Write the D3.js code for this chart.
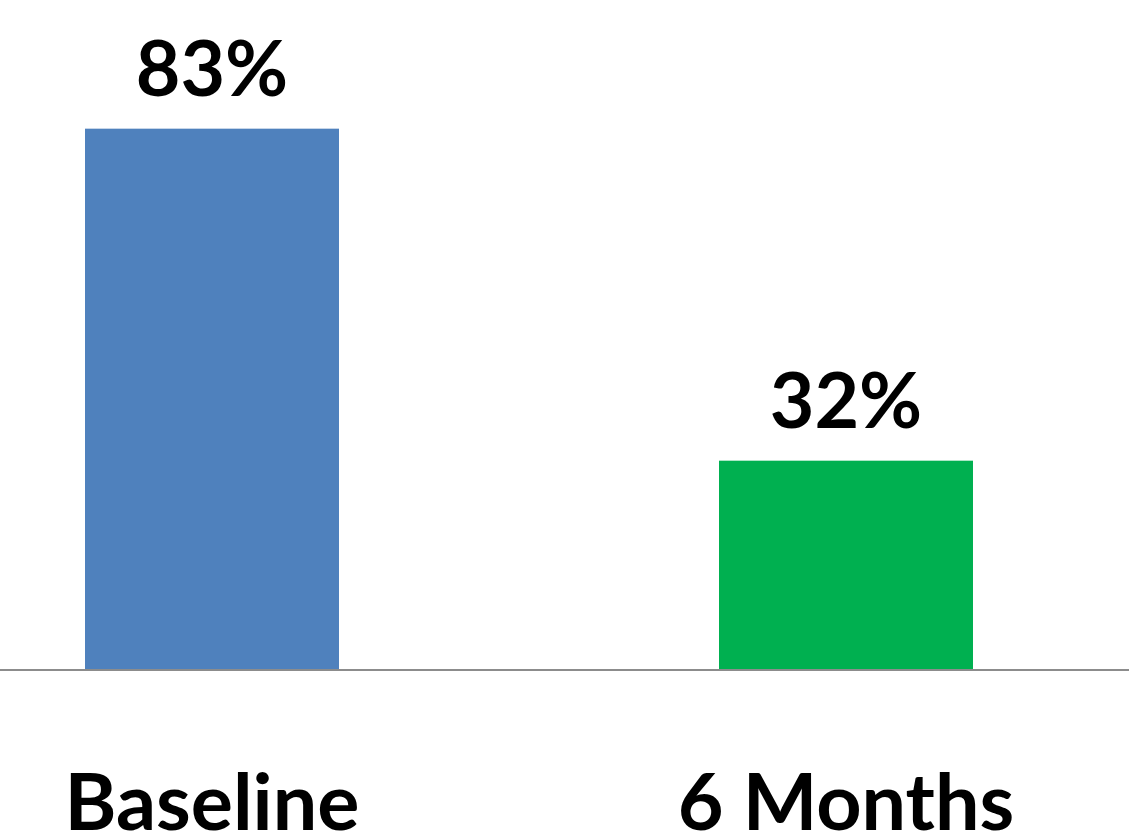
<!DOCTYPE html>
<html lang="en">
<head>
    <meta charset="UTF-8">
    <script src="https://cdn.jsdelivr.net/npm/d3@7/dist/d3.min.js"></script>
    <style>
    body { margin:0; background:#fff; overflow:hidden; }
    text { font-family: Lato, "Open Sans", sans-serif; font-weight: 700; fill: #000; }
    </style>
    <title>Baseline vs 6 Months</title>
</head>
<body>
<script>
// chart values
var categories = ["Baseline", "6 Months"];
var values = [83, 32];
var colors = ["#4f81bd", "#00b050"];

var width = 1129, height = 832;

var svg = d3.select("body").append("svg")
    .attr("width", width)
    .attr("height", height);

// bar centres sit at 212 and 846
var x = d3.scalePoint()
    .domain(categories)
    .range([212, 846]);
var barWidth = 254;

var y = d3.scaleLinear()
    .domain([0, 100])
    .range([669, 18]);

svg.selectAll("rect.bar").data(values).enter()
  .append("rect")
    .attr("class", "bar")
    .attr("x", function(d, i) { return x(categories[i]) - barWidth / 2; })
    .attr("y", function(d) { return y(d); })
    .attr("width", barWidth)
    .attr("height", function(d) { return y(0) - y(d); })
    .style("fill", function(d, i) { return colors[i]; });

// baseline axis line
svg.append("line")
    .attr("x1", 0)
    .attr("x2", width)
    .attr("y1", y(0) + 1)
    .attr("y2", y(0) + 1)
    .attr("stroke", "#8c8c8c")
    .attr("stroke-width", 2);

// value labels
svg.selectAll("text.value").data(values).enter()
  .append("text")
    .attr("class", "value")
    .attr("x", function(d, i) { return x(categories[i]); })
    .attr("y", function(d) { return y(d) - 33; })
    .attr("text-anchor", "middle")
    .style("font-size", "77px")
    .text(function(d) { return d + "%"; });

// category labels, sitting right on the bottom edge
svg.selectAll("text.cat").data(categories).enter()
  .append("text")
    .attr("class", "cat")
    .attr("x", function(d) { return x(d); })
    .attr("y", 830)
    .attr("text-anchor", "middle")
    .style("font-size", "79px")
    .text(function(d) { return d; });
</script>
</body>
</html>
